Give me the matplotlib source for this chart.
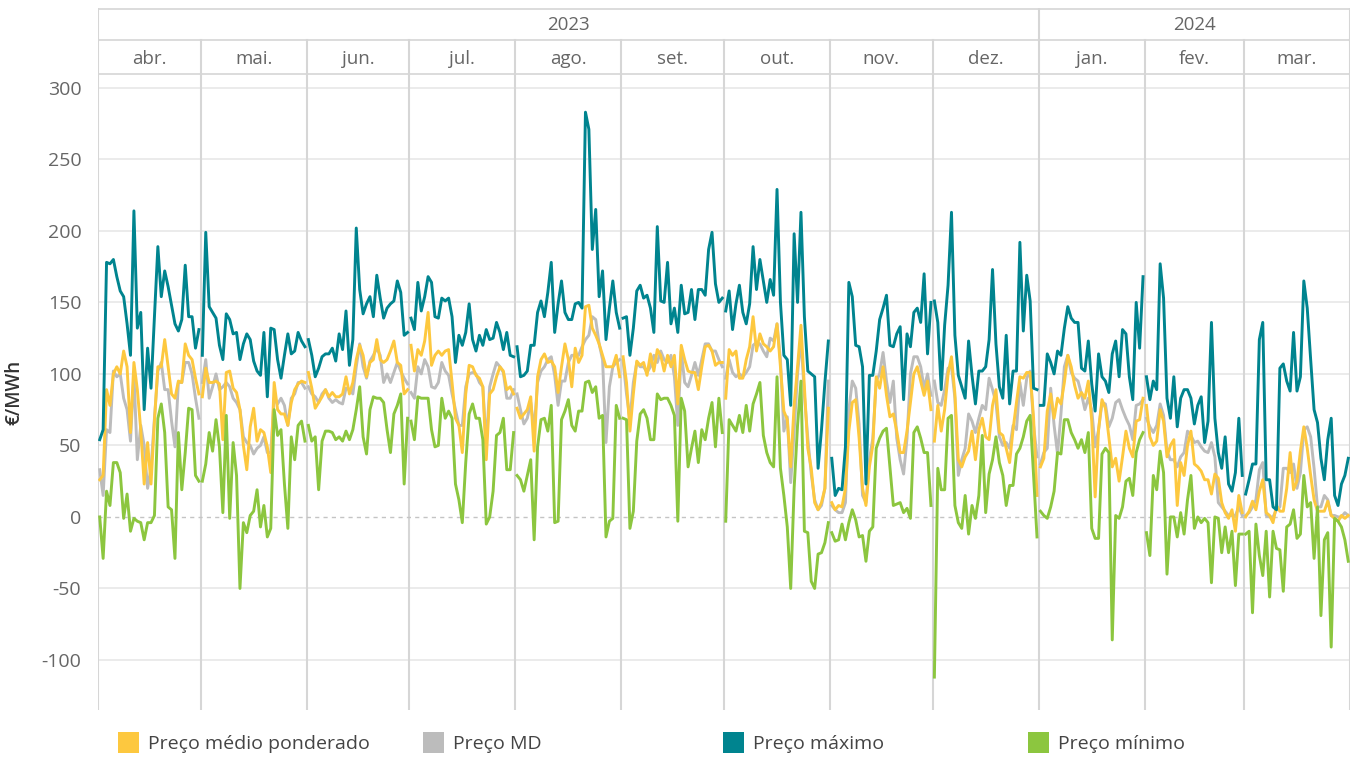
import matplotlib.pyplot as plt
from matplotlib.patches import Rectangle

plt.rcParams['font.family'] = ['Open Sans', 'DejaVu Sans']

years = ['2023', '2024']
months = ['abr.', 'mai.', 'jun.', 'jul.', 'ago.', 'set.',
          'out.', 'nov.', 'dez.', 'jan.', 'fev.', 'mar.']
month_days = [30, 31, 30, 31, 31, 30, 31, 30, 31, 31, 29, 31]
month_year = [0, 0, 0, 0, 0, 0, 0, 0, 0, 1, 1, 1]

series_names = ['Preço médio ponderado', 'Preço MD', 'Preço máximo', 'Preço mínimo']
series_colors = ['#FDC83F', '#BCBCBC', '#00848F', '#8CC63F']

# daily prices (€/MWh), one row per month
preco_medio = [
    26, 29, 89, 78, 100, 105, 100, 116, 105, 59, 108, 89, 61, 23, 52, 23, 67, 105, 105, 124, 105, 86, 83, 95, 94, 121, 113, 110, 97, 86,
    84, 104, 94, 94, 95, 93, 54, 101, 102, 90, 87, 75, 50, 33, 63, 76, 53, 61, 59, 49, 31, 94, 75, 72, 72, 64, 80, 89, 93, 95, 94,
    101, 90, 76, 80, 84, 89, 84, 87, 84, 84, 86, 98, 86, 94, 110, 120, 113, 98, 108, 110, 124, 110, 108, 110, 116, 123, 108, 106, 86, 89,
    120, 102, 117, 113, 123, 143, 106, 113, 116, 113, 116, 117, 94, 69, 64, 45, 86, 106, 105, 99, 97, 91, 40, 86, 89, 98, 105, 102, 89, 91, 86,
    76, 69, 72, 75, 84, 46, 98, 110, 114, 108, 109, 105, 87, 105, 121, 110, 91, 118, 108, 113, 147, 148, 132, 127, 121, 113, 105, 105, 105, 113, 98,
    112, 94, 60, 86, 109, 106, 108, 99, 114, 102, 117, 113, 102, 113, 105, 113, 79, 120, 110, 102, 101, 101, 89, 105, 119, 120, 116, 106, 108, 108,
    83, 117, 113, 116, 97, 97, 110, 119, 140, 116, 128, 121, 119, 116, 119, 135, 105, 74, 68, 35, 78, 105, 134, 91, 48, 34, 10, 5, 10, 20, 76,
    10, 5, 8, 7, 20, 60, 80, 82, 55, 20, 8, 35, 50, 98, 90, 105, 85, 70, 72, 60, 45, 45, 60, 80, 100, 105, 95, 85, 95, 75,
    53, 78, 60, 75, 100, 112, 86, 40, 35, 42, 46, 60, 40, 61, 69, 56, 54, 78, 89, 59, 57, 48, 38, 61, 80, 98, 97, 101, 101, 69, 15,
    35, 41, 74, 86, 69, 83, 79, 94, 113, 105, 92, 83, 87, 83, 95, 67, 14, 61, 82, 76, 56, 35, 41, 25, 42, 60, 48, 42, 67, 68, 83,
    78, 56, 50, 53, 75, 67, 42, 50, 54, 8, 38, 29, 50, 60, 37, 35, 32, 26, 26, 16, 30, 27, 10, 3, -1, 5, -10, 15, 3,
    0, 4, 11, 5, 18, 26, 3, 1, -4, 8, 4, 4, 20, 45, 19, 25, 46, 63, 48, 29, 12, 4, 4, 4, 11, 1, -1, -3, 1, -1, 1,
]

preco_md = [
    33, 15, 61, 59, 102, 98, 100, 83, 75, 53, 100, 40, 64, 50, 20, 34, 69, 102, 108, 89, 89, 67, 49, 94, 94, 108, 108, 100, 83, 69,
    94, 110, 83, 91, 100, 89, 91, 94, 91, 83, 80, 75, 56, 52, 50, 44, 48, 50, 56, 45, 45, 83, 79, 83, 78, 64, 83, 86, 94, 94, 90,
    91, 86, 84, 80, 86, 89, 83, 80, 82, 80, 79, 90, 89, 86, 105, 121, 105, 97, 109, 113, 118, 113, 94, 100, 94, 101, 108, 102, 97, 93,
    87, 83, 105, 100, 110, 105, 91, 90, 94, 108, 102, 99, 86, 75, 64, 64, 91, 100, 101, 100, 94, 91, 50, 91, 100, 108, 105, 101, 83, 83, 89,
    86, 75, 65, 69, 80, 61, 94, 102, 105, 110, 112, 99, 78, 95, 95, 108, 113, 113, 113, 119, 124, 127, 140, 138, 121, 110, 52, 91, 105, 108, 110,
    109, 86, 68, 94, 108, 105, 105, 101, 105, 113, 108, 116, 110, 108, 113, 98, 64, 116, 94, 91, 99, 108, 99, 110, 121, 121, 116, 116, 110, 105,
    97, 110, 101, 98, 100, 98, 101, 105, 120, 122, 121, 116, 112, 125, 123, 135, 110, 60, 70, 24, 60, 100, 125, 85, 55, 30, 12, 5, 8, 20, 95,
    8, 5, 3, 3, 10, 75, 95, 90, 65, 15, 10, 40, 55, 95, 100, 115, 95, 80, 95, 55, 40, 30, 55, 100, 112, 112, 105, 90, 100, 85,
    95, 80, 78, 89, 104, 105, 83, 29, 40, 48, 72, 67, 59, 69, 78, 75, 97, 89, 80, 56, 50, 52, 48, 64, 61, 94, 78, 97, 102, 64, 42,
    37, 45, 48, 90, 64, 44, 72, 105, 113, 101, 97, 95, 86, 75, 83, 75, 49, 61, 80, 79, 63, 69, 80, 82, 75, 69, 64, 54, 78, 79, 82,
    69, 63, 59, 64, 79, 71, 46, 40, 40, 35, 42, 45, 60, 57, 52, 53, 49, 46, 45, 52, 42, 10, 7, 4, 1, 1, 1, 7, 1,
    1, 3, 7, 12, 33, 38, 1, 0, 0, 5, 7, 34, 34, 31, 37, 20, 31, 61, 63, 56, 34, 7, 7, 15, 12, 1, 1, 0, 0, 3, 1,
]

preco_max = [
    54, 61, 178, 177, 180, 168, 158, 154, 135, 113, 214, 132, 143, 75, 118, 90, 140, 189, 154, 172, 161, 148, 135, 130, 138, 176, 140, 140, 118, 131,
    113, 199, 147, 143, 139, 120, 110, 142, 138, 128, 129, 110, 121, 128, 124, 109, 102, 99, 129, 84, 132, 131, 110, 97, 113, 128, 114, 116, 129, 123, 119,
    124, 113, 98, 104, 112, 114, 114, 118, 109, 128, 117, 144, 106, 124, 202, 159, 142, 149, 154, 140, 169, 153, 139, 146, 149, 151, 165, 157, 127, 129,
    139, 131, 164, 144, 154, 168, 164, 140, 139, 153, 151, 153, 140, 108, 127, 120, 129, 149, 124, 116, 127, 120, 131, 124, 125, 136, 129, 117, 129, 113, 112,
    119, 98, 99, 102, 120, 120, 143, 151, 140, 157, 178, 129, 149, 165, 143, 138, 138, 149, 150, 146, 283, 271, 187, 215, 154, 172, 124, 146, 165, 143, 132,
    139, 140, 113, 132, 158, 162, 153, 155, 146, 129, 203, 151, 150, 178, 135, 146, 129, 162, 142, 143, 159, 138, 159, 159, 155, 187, 199, 163, 150, 153,
    144, 158, 131, 149, 162, 143, 135, 149, 189, 159, 180, 165, 150, 166, 155, 229, 150, 113, 110, 78, 198, 150, 213, 140, 102, 100, 98, 34, 61, 94, 123,
    41, 15, 20, 19, 49, 164, 154, 120, 119, 105, 23, 99, 99, 116, 138, 146, 155, 120, 119, 128, 133, 82, 128, 119, 143, 146, 136, 170, 114, 150,
    151, 136, 89, 134, 162, 213, 127, 99, 91, 83, 123, 99, 79, 102, 102, 105, 124, 173, 121, 91, 83, 127, 79, 102, 102, 192, 130, 169, 151, 90, 89,
    78, 78, 114, 108, 100, 116, 113, 132, 147, 139, 136, 136, 104, 102, 123, 93, 74, 114, 98, 95, 87, 114, 123, 98, 131, 128, 98, 82, 150, 118, 168,
    98, 82, 95, 89, 177, 153, 83, 69, 98, 63, 83, 89, 89, 83, 65, 78, 84, 52, 67, 136, 69, 45, 34, 56, 23, 18, 31, 69, 29,
    16, 26, 37, 37, 124, 136, 26, 26, 7, 5, 104, 107, 95, 88, 129, 88, 98, 165, 146, 110, 75, 66, 41, 26, 54, 69, 15, 8, 23, 29, 41,
]

preco_min = [
    0, -29, 18, 8, 38, 38, 31, -1, 16, -10, -1, -3, -4, -16, -4, -4, 1, 69, 79, 59, 7, 5, -29, 59, 19, 45, 76, 75, 29, 25,
    25, 37, 59, 46, 68, 49, 3, 71, -1, 52, 29, -50, -4, -11, 1, 4, 19, -7, 8, -14, -8, 75, 57, 61, 23, -8, 56, 40, 64, 67, 53,
    64, 53, 56, 19, 53, 60, 60, 59, 54, 56, 53, 60, 54, 61, 75, 91, 56, 44, 75, 84, 83, 83, 80, 61, 45, 72, 78, 86, 23, 69,
    67, 54, 84, 83, 83, 83, 61, 49, 50, 83, 69, 74, 69, 23, 12, -4, 38, 72, 79, 69, 69, 54, -5, 0, 18, 57, 59, 69, 33, 33, 59,
    29, 26, 18, 29, 40, -16, 49, 68, 69, 60, 78, -4, -3, 68, 74, 82, 64, 60, 74, 74, 94, 95, 87, 91, 69, 71, -14, -3, -1, 78, 69,
    69, 68, -8, 4, 53, 72, 75, 69, 54, 54, 86, 82, 83, 83, 78, 71, -3, 83, 74, 35, 48, 60, 38, 61, 54, 69, 80, 49, 83, 59,
    -3, 68, 64, 60, 71, 59, 78, 60, 79, 86, 94, 57, 45, 38, 35, 98, 34, 15, -7, -50, 20, 64, 95, -10, -11, -45, -50, -26, -25, -18, -4,
    -11, -17, -16, -5, -16, -4, 5, -2, -14, -13, -31, -10, -7, 48, 55, 60, 62, 35, 8, 9, 10, 3, 6, -1, 59, 63, 55, 45, 45, 8,
    -112, 34, 19, 19, 69, 71, 8, -4, -8, 15, -12, 8, -1, 15, 57, 3, 30, 40, 56, 38, 29, 8, 22, 22, 44, 48, 56, 67, 71, 29, -14,
    4, 1, -1, 7, 18, 45, 44, 68, 68, 59, 54, 48, 54, 45, 59, -8, -15, -15, 44, 48, 45, -86, 1, -1, 7, 25, 27, 15, 45, 54, 59,
    -11, -27, 29, 19, 46, 31, -40, 0, 0, -14, 3, -12, 12, 29, -8, 0, -4, -1, -4, -46, 0, -1, -25, -7, -25, -10, -48, -12, -12,
    -12, -10, -67, -5, -27, -41, -10, -56, -10, -22, -23, -52, -7, -5, 5, -15, -12, 29, 7, 10, -29, 7, -69, -16, -11, -91, -1, -3, -7, -16, -31,
]

W, H = 1358, 757
fig = plt.figure(figsize=(W / 100, H / 100), dpi=100)

def fx(px):
    return px / W

def fy(py):
    return 1 - py / H

grid_c = '#e6e6e6'
pane_c = '#d6d6d6'
text_c = '#666666'

n_days = sum(month_days)
starts = [sum(month_days[:i]) for i in range(len(month_days))]
bounds = [s - 0.5 for s in starts] + [n_days - 0.5]

# main plot area
ax = fig.add_axes([fx(98), fy(710), fx(1350) - fx(98), fy(75) - fy(710)])
ax.set_xlim(-0.5, n_days - 0.5)
ax.set_ylim(-135, 309)
for s in ax.spines.values():
    s.set_visible(False)
ax.set_xticks([])
ax.set_yticks(range(-100, 301, 50))
ax.set_yticklabels([str(v) for v in range(-100, 301, 50)], fontsize=14, color=text_c)
ax.tick_params(axis='y', length=0, pad=12)
for v in range(-100, 301, 50):
    if v == 0:
        ax.axhline(0, color='#c4c4c4', lw=1, ls=(0, (3, 3)), zorder=1)
    else:
        ax.axhline(v, color=grid_c, lw=1.1, zorder=0)
for b in bounds:
    ax.axvline(b, color=pane_c, lw=1.5, zorder=0)
ax.set_ylabel('€/MWh', fontsize=13.5, color='#333333', fontweight='semibold', labelpad=12)

# each month is its own pane, so lines break between months
series = [preco_md, preco_medio, preco_max, preco_min]
order = [1, 0, 2, 3]
for z, (vals, idx) in enumerate(zip(series, order)):
    for s, n in zip(starts, month_days):
        ax.plot(range(s, s + n), vals[s:s + n], color=series_colors[idx],
                lw=2.1, solid_joinstyle='round', zorder=3 + z)

# header rows with years and months
hax = fig.add_axes([fx(98), fy(75), fx(1350) - fx(98), fy(8) - fy(75)])
hax.set_xlim(-0.5, n_days - 0.5)
hax.set_ylim(0, 67)
hax.axis('off')
hax.axhline(66.5, color=pane_c, lw=1.2)
hax.axhline(35, color=pane_c, lw=1.2)
hax.axhline(1.5, color=pane_c, lw=1.2)
for b in bounds:
    hax.plot([b, b], [0, 35], color=pane_c, lw=1.5)
year_bounds = [bounds[0], bounds[month_year.index(1)], bounds[-1]]
for b in year_bounds:
    hax.plot([b, b], [35, 67], color=pane_c, lw=1.5)
for i, y in enumerate(years):
    hax.text((year_bounds[i] + year_bounds[i + 1]) / 2, 49.5, y,
             ha='center', va='center', fontsize=13.5, color=text_c)
for i, m in enumerate(months):
    hax.text((bounds[i] + bounds[i + 1]) / 2, 15.5, m,
             ha='center', va='center', fontsize=13.5, color=text_c)

# legend along the bottom
legend_x = [118, 423, 723, 1028]
for name, col, lx in zip(series_names, series_colors, legend_x):
    fig.patches.append(Rectangle((fx(lx), fy(753)), fx(21), fy(732) - fy(753),
                                 transform=fig.transFigure, facecolor=col,
                                 edgecolor='none'))
    fig.text(fx(lx + 30), fy(744), name, ha='left', va='center',
             fontsize=14, color='#444444')

fig.savefig('out.png', dpi=100)
